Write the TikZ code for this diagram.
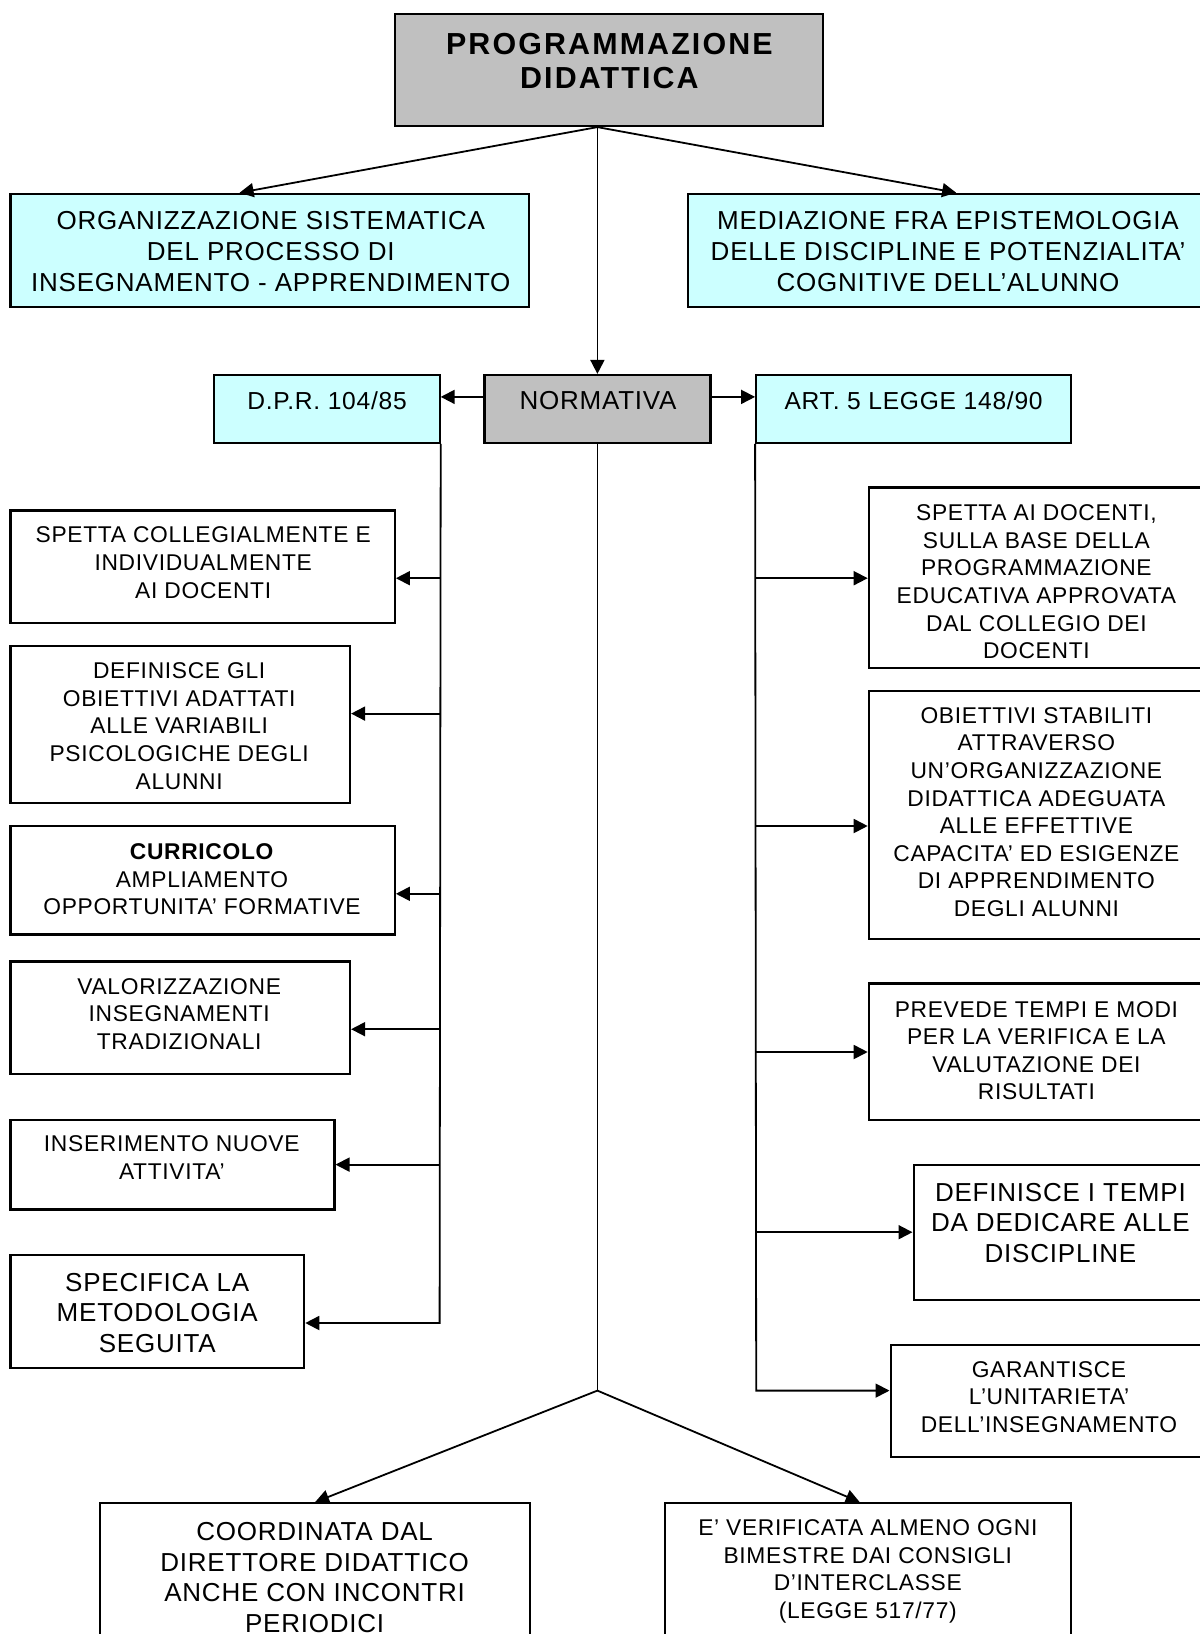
\documentclass[tikz,border=0pt]{standalone}
\usepackage{fontspec}
\setmainfont{Liberation Sans}[LetterSpace=3]
\newfontfamily\titlefont{Liberation Sans}[LetterSpace=7]
\usetikzlibrary{arrows.meta,calc}
\definecolor{boxcyan}{HTML}{CCFFFF}
\definecolor{boxgray}{HTML}{C0C0C0}
\newcommand{\mybox}[6]{\node[#2, minimum width={#4-#3}, minimum height={#6-#5}] (#1) at ({(#3+#4)/2},{(#5+#6)/2}) {};}
\begin{document}
\begin{tikzpicture}[x=1pt,y=-1pt,
  box/.style={draw=black, line width=1.1pt, rectangle, inner sep=0pt, fill=white},
  cbox/.style={box, fill=boxcyan},
  gbox/.style={box, fill=boxgray},
  bigtxt/.style={font=\fontsize{13}{15.3}\selectfont, align=center, inner sep=0pt},
  midtxt/.style={font=\fontsize{12.3}{14.5}\selectfont, align=center, inner sep=0pt},
  smalltxt/.style={font=\fontsize{11.4}{13.8}\selectfont, align=center, inner sep=0pt},
  titletxt/.style={font=\titlefont\fontsize{15.2}{17.2}\selectfont\bfseries, align=center, inner sep=0pt},
  conn/.style={line width=0.9pt},
  arr/.style={conn, -{Triangle[length=7pt,width=7pt]}},
]
\useasboundingbox (0,0) rectangle (600,817);

% boxes
\mybox{t}{gbox}{197.4}{411.5}{6.8}{63.0}
\mybox{org}{cbox}{5.2}{264.6}{96.9}{153.6}
\mybox{med}{cbox}{343.8}{604}{96.9}{153.6}
\mybox{norm}{gbox}{242.2}{355.2}{187.5}{221.4}
\mybox{dpr}{cbox}{106.8}{219.8}{187.5}{221.4}
\mybox{art}{cbox}{378.1}{535.4}{187.5}{221.4}
\mybox{l1}{box}{5.2}{197.4}{255.2}{311.5}
\mybox{l2}{box}{5.2}{175.0}{322.9}{401.6}
\mybox{l3}{box}{5.2}{197.4}{413.0}{467.2}
\mybox{l4}{box}{5.2}{175.0}{480.7}{537.0}
\mybox{l5}{box}{5.2}{167.2}{559.9}{604.7}
\mybox{l6}{box}{5.2}{152.1}{627.6}{683.9}
\mybox{r1}{box}{434.4}{604}{243.75}{333.9}
\mybox{r2}{box}{434.4}{604}{345.3}{469.3}
\mybox{r3}{box}{434.4}{604}{491.7}{559.9}
\mybox{r4}{box}{456.8}{604}{582.3}{650.0}
\mybox{r5}{box}{445.3}{604}{672.4}{728.6}
\mybox{b1}{box}{50}{265.1}{751.6}{830}
\mybox{b2}{box}{332.3}{535.4}{751.6}{830}

% texts
\node[titletxt] (tt) at (304.7,30.5) {PROGRAMMAZIONE\\DIDATTICA};
\node[bigtxt] (orgt) at (135.4,125.8) {ORGANIZZAZIONE SISTEMATICA\\DEL PROCESSO DI\\INSEGNAMENTO - APPRENDIMENTO};
\node[bigtxt] (medt) at (474,125.8) {MEDIAZIONE FRA EPISTEMOLOGIA\\DELLE DISCIPLINE E POTENZIALITA’\\COGNITIVE DELL’ALUNNO};
\node[bigtxt] (normt) at (299,200.5) {NORMATIVA};
\node[midtxt] (dprt) at (163.5,200.5) {D.P.R. 104/85};
\node[midtxt] (artt) at (456.8,200.5) {ART. 5 LEGGE 148/90};
\node[smalltxt] (l1t) at (101.6,281.3) {SPETTA COLLEGIALMENTE E\\INDIVIDUALMENTE\\AI DOCENTI};
\node[smalltxt] (l2t) at (89.6,363.0) {DEFINISCE GLI\\OBIETTIVI ADATTATI\\ALLE VARIABILI\\PSICOLOGICHE DEGLI\\ALUNNI};
\node[smalltxt] (l3t) at (101.0,439.6) {\textbf{CURRICOLO}\\AMPLIAMENTO\\OPPORTUNITA’ FORMATIVE};
\node[smalltxt] (l4t) at (89.6,507.0) {VALORIZZAZIONE\\INSEGNAMENTI\\TRADIZIONALI};
\node[smalltxt] (l5t) at (85.9,578.9) {INSERIMENTO NUOVE\\ATTIVITA’};
\node[bigtxt] (l6t) at (78.6,656.5) {SPECIFICA LA\\METODOLOGIA\\SEGUITA};
\node[smalltxt] (r1t) at (518.2,290.9) {SPETTA AI DOCENTI,\\SULLA BASE DELLA\\PROGRAMMAZIONE\\EDUCATIVA APPROVATA\\DAL COLLEGIO DEI\\DOCENTI};
\node[smalltxt] (r2t) at (518.2,406.0) {OBIETTIVI STABILITI\\ATTRAVERSO\\UN’ORGANIZZAZIONE\\DIDATTICA ADEGUATA\\ALLE EFFETTIVE\\CAPACITA’ ED ESIGENZE\\DI APPRENDIMENTO\\DEGLI ALUNNI};
\node[smalltxt] (r3t) at (518.2,525.3) {PREVEDE TEMPI E MODI\\PER LA VERIFICA E LA\\VALUTAZIONE DEI\\RISULTATI};
\node[bigtxt] (r4t) at (530.2,611.5) {DEFINISCE I TEMPI\\DA DEDICARE ALLE\\DISCIPLINE};
\node[smalltxt] (r5t) at (524.5,698.5) {GARANTISCE\\L’UNITARIETA’\\DELL’INSEGNAMENTO};
\node[bigtxt] (b1t) at (157.3,788.7) {COORDINATA DAL\\DIRETTORE DIDATTICO\\ANCHE CON INCONTRI\\PERIODICI};
\node[smalltxt] (b2t) at (433.9,785.6) {E’ VERIFICATA ALMENO OGNI\\BIMESTRE DAI CONSIGLI\\D’INTERCLASSE\\(LEGGE 517/77)};

% connectors from title
\coordinate (tb) at (t.south -| norm.north);
\draw[arr] (tb) -- ($(org.north west)!0.442!(org.north east)$);
\draw[arr] (tb) -- ($(med.north west)!0.516!(med.north east)$);
\draw[arr] (tb) -- (norm.north);

% normativa to laws
\draw[arr] ([yshift=6pt]norm.west) -- ([yshift=6pt]dpr.east);
\draw[arr] ([yshift=6pt]norm.east) -- ([yshift=6pt]art.west);

% central line to bottom boxes
\coordinate (nb) at (298.7,695.3);
\draw[conn] (norm.south) -- (nb);
\draw[arr] (nb) -- (b1.north);
\draw[arr] (nb) -- ([xshift=-4pt]b2.north);

% left spine
\coordinate (ls1) at (219.8,289.1);
\coordinate (ls2) at (219.8,356.8);
\coordinate (ls3) at (219.8,446.9);
\coordinate (ls4) at (219.8,514.6);
\coordinate (ls5) at (219.8,582.3);
\coordinate (ls6) at (219.8,661.5);
\draw[arr] (dpr.south east) -- (ls6) -- (ls6 -| l6.east);
\draw[arr] (ls1) -- (ls1 -| l1.east);
\draw[arr] (ls2) -- (ls2 -| l2.east);
\draw[arr] (ls3) -- (ls3 -| l3.east);
\draw[arr] (ls4) -- (ls4 -| l4.east);
\draw[arr] (ls5) -- (ls5 -| l5.east);

% right spine
\coordinate (rs1) at (378.1,289.1);
\coordinate (rs2) at (378.1,413.0);
\coordinate (rs3) at (378.1,526.0);
\coordinate (rs4) at (378.1,616.1);
\coordinate (rs5) at (378.1,695.3);
\draw[arr] (art.south west) -- (rs5) -- (rs5 -| r5.west);
\draw[arr] (rs1) -- (rs1 -| r1.west);
\draw[arr] (rs2) -- (rs2 -| r2.west);
\draw[arr] (rs3) -- (rs3 -| r3.west);
\draw[arr] (rs4) -- (rs4 -| r4.west);
\end{tikzpicture}
\end{document}
